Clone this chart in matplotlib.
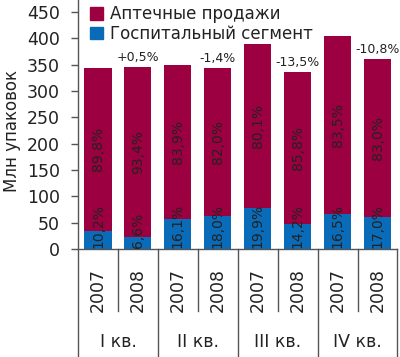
import matplotlib
matplotlib.use("Agg")
import matplotlib.pyplot as plt
from matplotlib.patches import Patch
import numpy as np

years = ["2007", "2008", "2007", "2008", "2007", "2008", "2007", "2008"]
quarters = ["I кв.", "II кв.", "III кв.", "IV кв."]
totals = [344, 346, 349, 344, 390, 337, 405, 361]
hosp_share = [10.2, 6.6, 16.1, 18.0, 19.9, 14.2, 16.5, 17.0]
pharm_share = [89.8, 93.4, 83.9, 82.0, 80.1, 85.8, 83.5, 83.0]
changes = ["+0,5%", "-1,4%", "-13,5%", "-10,8%"]

PHARM = "#9c0041"
HOSP = "#0a6bb8"
TXT = "#222222"
LINE = "#555555"

totals_a = np.array(totals, dtype=float)
hosp = totals_a * np.array(hosp_share) / 100.0
pharm = totals_a - hosp

fig = plt.figure(figsize=(4.0, 3.57), dpi=100)
W, H = 400, 357
ax_left, ax_right, ax_top, ax_bottom = 78, 397.5, 12, 249
ax = fig.add_axes([ax_left / W, 1 - ax_bottom / H, (ax_right - ax_left) / W, (ax_bottom - ax_top) / H])

x = np.arange(len(totals))
bw = 0.68
ax.bar(x, hosp, bw, color=HOSP, zorder=2)
ax.bar(x, pharm, bw, bottom=hosp, color=PHARM, zorder=2)

ax.set_xlim(-0.5, len(totals) - 0.5)
ax.set_ylim(0, 450)
ax.set_yticks(np.arange(0, 451, 50))
ax.set_xticks([])
for s in ["top", "right", "left"]:
    ax.spines[s].set_visible(False)
ax.spines["bottom"].set_color(LINE)
ax.spines["bottom"].set_linewidth(1.0)
ax.tick_params(axis="y", length=5, width=1.0, color=LINE, pad=8, labelsize=12.5, labelcolor=TXT)
ax.set_ylabel("Млн упаковок", fontsize=12, color=TXT, labelpad=4)

def fmt(v):
    return f"{v:.1f}".replace(".", ",") + "%"

for i in range(len(totals)):
    ax.text(i, 2, fmt(hosp_share[i]), rotation=90, ha="center", va="bottom",
            fontsize=10, color=TXT, zorder=3)
    ax.text(i, hosp[i] + pharm[i] / 2, fmt(pharm_share[i]), rotation=90, ha="center",
            va="center", fontsize=10, color=TXT, zorder=3)

for q, ch in enumerate(changes):
    i = 2 * q + 1
    ax.text(i, totals[i] + 5, ch, ha="center", va="bottom", fontsize=9, color=TXT)

tr = ax.get_xaxis_transform()
ah = ax_bottom - ax_top
fig_bot = -(H - ax_bottom) / ah
fig_top = ax_bottom / ah
year_bot = -(311 - ax_bottom) / ah
ax.plot([-0.5, -0.5], [fig_bot, fig_top], color=LINE, lw=1.0, transform=tr, clip_on=False)
for b in [1.5, 3.5, 5.5, 7.5]:
    ax.plot([b, b], [fig_bot, 0], color=LINE, lw=1.0, transform=tr, clip_on=False)
for b in [0.5, 2.5, 4.5, 6.5]:
    ax.plot([b, b], [year_bot, 0], color=LINE, lw=1.0, transform=tr, clip_on=False)

for i, y in enumerate(years):
    ax.text(i, -(290 - ax_bottom) / ah, y, rotation=90, ha="center", va="center",
            fontsize=12.5, color=TXT, transform=tr)
for q, lab in enumerate(quarters):
    ax.text(2 * q + 0.5, -(342 - ax_bottom) / ah, lab, ha="center", va="center",
            fontsize=12.5, color=TXT, transform=tr)

handles = [Patch(color=PHARM, label="Аптечные продажи"), Patch(color=HOSP, label="Госпитальный сегмент")]
fig.legend(handles=handles, loc="upper left", bbox_to_anchor=(80 / W, 1 + 5 / H), frameon=False,
           fontsize=12, handlelength=0.8, handleheight=0.8, handletextpad=0.4, labelspacing=0.1,
           borderpad=0.1, labelcolor=TXT)

fig.savefig("out.png", dpi=100)
